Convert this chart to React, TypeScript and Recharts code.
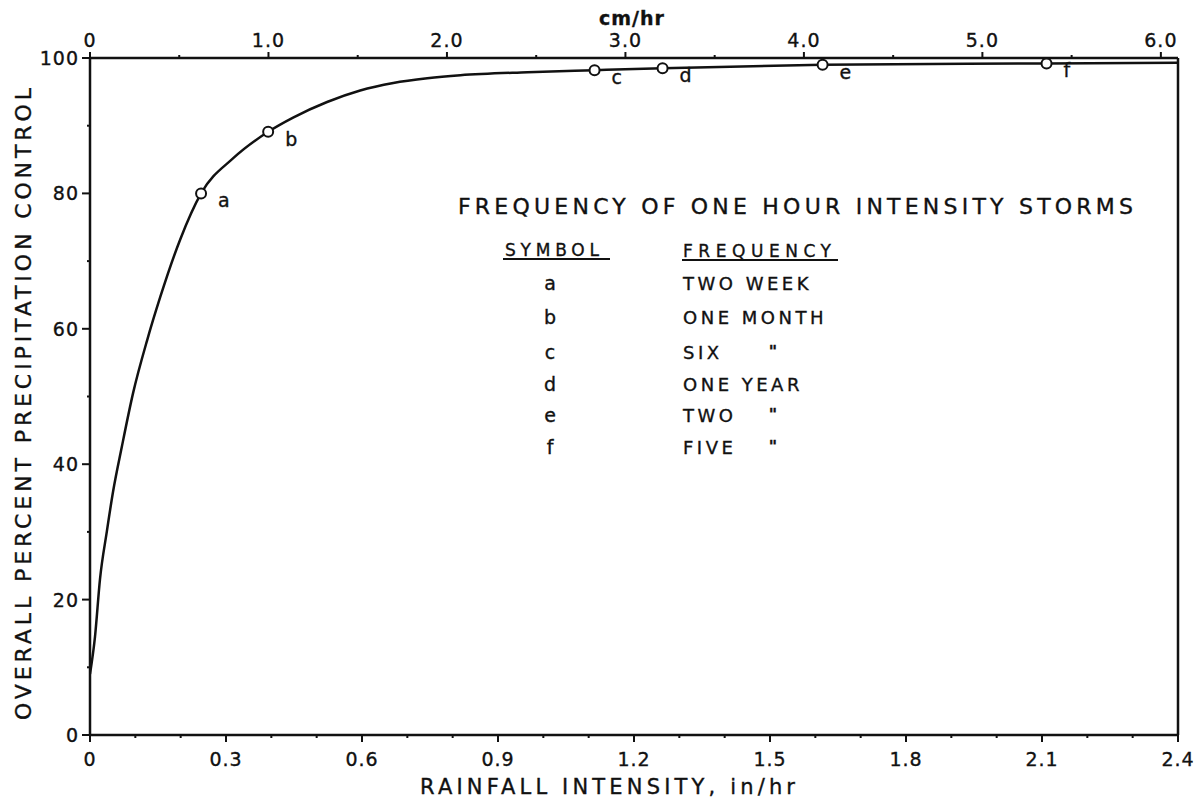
import React from 'react';
import { ComposedChart, Line, Scatter, XAxis, YAxis } from 'recharts';

// ---- data ----
const curveX = [0, 0.011, 0.022, 0.037, 0.051, 0.07, 0.095, 0.126, 0.155, 0.199, 0.245, 0.316, 0.393, 0.448, 0.523, 0.596, 0.669, 0.744, 0.817, 0.965, 1.113, 1.263, 1.616, 2.11, 2.4];
const curveY = [9, 14.5, 23, 30, 36, 42.5, 50.5, 58.3, 64.7, 73.2, 80, 85.2, 89.1, 91.2, 93.5, 95.2, 96.3, 97.0, 97.45, 97.9, 98.2, 98.5, 99.0, 99.2, 99.3];

const markerLabels = ['a', 'b', 'c', 'd', 'e', 'f'];
const markerX = [0.245, 0.393, 1.113, 1.263, 1.616, 2.11];
const markerY = [80, 89.1, 98.2, 98.5, 99.0, 99.2];

const xMajorTicks = [0, 0.3, 0.6, 0.9, 1.2, 1.5, 1.8, 2.1, 2.4];
const xMinorTicks = [0.1, 0.2, 0.4, 0.5, 0.7, 0.8, 1.0, 1.1, 1.3, 1.4, 1.6, 1.7, 1.9, 2.0, 2.2, 2.3];
const cmMajorTicks = [0, 1, 2, 3, 4, 5, 6];
const cmMinorTicks = [0.5, 1.5, 2.5, 3.5, 4.5, 5.5];
const yMajorTicks = [0, 20, 40, 60, 80, 100];
const yMinorTicks = [10, 30, 50, 70, 90];

const legendTitle = 'FREQUENCY OF ONE HOUR INTENSITY STORMS';
const legendSymbols = ['a', 'b', 'c', 'd', 'e', 'f'];
const legendFrequencies = ['TWO WEEK', 'ONE MONTH', 'SIX', 'ONE YEAR', 'TWO', 'FIVE'];
const legendDitto = [false, false, true, false, true, true];

const xTitle = 'RAINFALL INTENSITY,  in/hr';
const yTitle = 'OVERALL PERCENT PRECIPITATION CONTROL';
const topTitle = 'cm/hr';

const IN_TO_CM = 2.54;
const X_MAX = 2.4;

// ---- derived tables ----
const curveData = curveX.map((x, i) => ({ x, y: curveY[i] }));
const curveDataCm = curveX.map((x, i) => ({ xcm: x * IN_TO_CM, y: curveY[i] }));
const markerData = markerX.map((x, i) => ({ x, y: markerY[i], label: markerLabels[i] }));

const FONT = '"DejaVu Sans", sans-serif';
const INK = '#111';
const TXT = { fontFamily: FONT, fill: INK, stroke: INK, strokeWidth: 0.35 };

const isIn = (arr: number[], v: number) => arr.some((t) => Math.abs(t - v) < 1e-9);

const fmtIn = (v: number) => (v === 0 ? '0' : v.toFixed(1));
const fmtCm = (v: number) => (v === 0 ? '0' : v.toFixed(1));

const BottomTick = (props: any) => {
  const { x, y, payload } = props;
  const v = payload.value;
  const major = isIn(xMajorTicks, v);
  return (
    <g>
      <line x1={x} x2={x} y1={y} y2={y + (major ? 7 : 3)} stroke={INK} strokeWidth={2} />
      {major && (
        <text x={x} y={y + 31} textAnchor="middle" fontSize={19} letterSpacing={1} {...TXT}>
          {fmtIn(v)}
        </text>
      )}
    </g>
  );
};

const TopTick = (props: any) => {
  const { x, y, payload } = props;
  const v = payload.value;
  const major = isIn(cmMajorTicks, v);
  return (
    <g>
      <line x1={x} x2={x} y1={y} y2={y - (major ? 6 : 3)} stroke={INK} strokeWidth={2} />
      {major && (
        <text x={x} y={y - 11} textAnchor="middle" fontSize={19} letterSpacing={1} {...TXT}>
          {fmtCm(v)}
        </text>
      )}
    </g>
  );
};

const LeftTick = (props: any) => {
  const { x, y, payload } = props;
  const v = payload.value;
  const major = isIn(yMajorTicks, v);
  return (
    <g>
      <line x1={x - (major ? 8 : 3)} x2={x} y1={y} y2={y} stroke={INK} strokeWidth={2} />
      {major && (
        <text x={x - 11} y={y + 7} textAnchor="end" fontSize={19} letterSpacing={1} {...TXT}>
          {String(v)}
        </text>
      )}
    </g>
  );
};

const MarkerShape = (props: any) => {
  const { cx, cy, payload } = props;
  return (
    <g>
      <circle cx={cx} cy={cy} r={5} fill="#fff" stroke={INK} strokeWidth={2} />
      <text x={cx + 17} y={cy + 14} fontSize={19} {...TXT}>
        {payload.label}
      </text>
    </g>
  );
};

export default function App() {
  const rowBaselines = [290, 324, 359, 391, 422, 454];
  return (
    <div style={{ position: 'absolute', left: 0, top: 0, width: 1195, height: 807, background: '#fff' }}>
      <ComposedChart width={1195} height={807} margin={{ top: 28, right: 7, bottom: 42, left: 30 }}>
        <XAxis
          xAxisId="bottom"
          type="number"
          dataKey="x"
          domain={[0, X_MAX]}
          allowDataOverflow
          ticks={[...xMajorTicks, ...xMinorTicks].sort((a, b) => a - b)}
          interval={0}
          height={30}
          tickSize={0}
          tickMargin={0}
          tickLine={false}
          tick={BottomTick}
          axisLine={{ stroke: INK, strokeWidth: 2.5 }}
        />
        <XAxis
          xAxisId="top"
          orientation="top"
          type="number"
          dataKey="xcm"
          domain={[0, X_MAX * IN_TO_CM]}
          allowDataOverflow
          ticks={[...cmMajorTicks, ...cmMinorTicks].sort((a, b) => a - b)}
          interval={0}
          height={30}
          tickSize={0}
          tickMargin={0}
          tickLine={false}
          tick={TopTick}
          axisLine={{ stroke: INK, strokeWidth: 2.5 }}
        />
        <YAxis
          yAxisId="left"
          type="number"
          domain={[0, 100]}
          allowDataOverflow
          ticks={[...yMajorTicks, ...yMinorTicks].sort((a, b) => a - b)}
          interval={0}
          width={60}
          tickSize={0}
          tickMargin={0}
          tickLine={false}
          tick={LeftTick}
          axisLine={{ stroke: INK, strokeWidth: 2.5 }}
        />
        <YAxis
          yAxisId="right"
          orientation="right"
          type="number"
          domain={[0, 100]}
          allowDataOverflow
          width={10}
          tick={false}
          tickLine={false}
          axisLine={{ stroke: INK, strokeWidth: 2.5 }}
        />
        <Line
          xAxisId="top"
          yAxisId="right"
          data={curveDataCm}
          dataKey="y"
          type="monotone"
          stroke="none"
          strokeWidth={0}
          dot={false}
          activeDot={false}
          legendType="none"
          isAnimationActive={false}
        />
        <Line
          xAxisId="bottom"
          yAxisId="left"
          data={curveData}
          dataKey="y"
          type="monotone"
          stroke={INK}
          strokeWidth={2.5}
          dot={false}
          activeDot={false}
          isAnimationActive={false}
        />
        <Scatter
          xAxisId="bottom"
          yAxisId="left"
          data={markerData}
          dataKey="y"
          shape={MarkerShape}
          isAnimationActive={false}
        />
      </ComposedChart>
      <svg width={1195} height={807} style={{ position: 'absolute', left: 0, top: 0, pointerEvents: 'none' }}>
        <text x={632} y={25} textAnchor="middle" fontSize={19} fontWeight="bold" letterSpacing={1} {...TXT}>
          {topTitle}
        </text>
        <text x={420} y={794} fontSize={21} textLength={375} lengthAdjust="spacing" {...TXT}>
          {xTitle}
        </text>
        <text
          x={0}
          y={0}
          transform="translate(31,720) rotate(-90)"
          fontSize={22}
          textLength={632}
          lengthAdjust="spacing"
          {...TXT}
        >
          {yTitle}
        </text>
        <text x={458} y={214} fontSize={22} textLength={675} lengthAdjust="spacing" {...TXT}>
          {legendTitle}
        </text>
        <text x={505} y={256} fontSize={17} textLength={94} lengthAdjust="spacing" {...TXT}>
          SYMBOL
        </text>
        <line x1={503} x2={610} y1={259} y2={259} stroke={INK} strokeWidth={2} />
        <text x={683} y={257} fontSize={17} textLength={148} lengthAdjust="spacing" {...TXT}>
          FREQUENCY
        </text>
        <line x1={682} x2={838} y1={260} y2={260} stroke={INK} strokeWidth={2} />
        {legendSymbols.map((s, i) => (
          <text key={'s' + i} x={550} y={rowBaselines[i]} textAnchor="middle" fontSize={19} {...TXT}>
            {s}
          </text>
        ))}
        {legendFrequencies.map((f, i) => (
          <text key={'f' + i} x={683} y={rowBaselines[i]} fontSize={18} letterSpacing={3.5} {...TXT}>
            {f}
          </text>
        ))}
        {legendDitto.map((d, i) =>
          d ? (
            <text key={'d' + i} x={773} y={rowBaselines[i] - 2} textAnchor="middle" fontSize={16} fontWeight="bold" {...TXT}>
              "
            </text>
          ) : null
        )}
      </svg>
    </div>
  );
}
